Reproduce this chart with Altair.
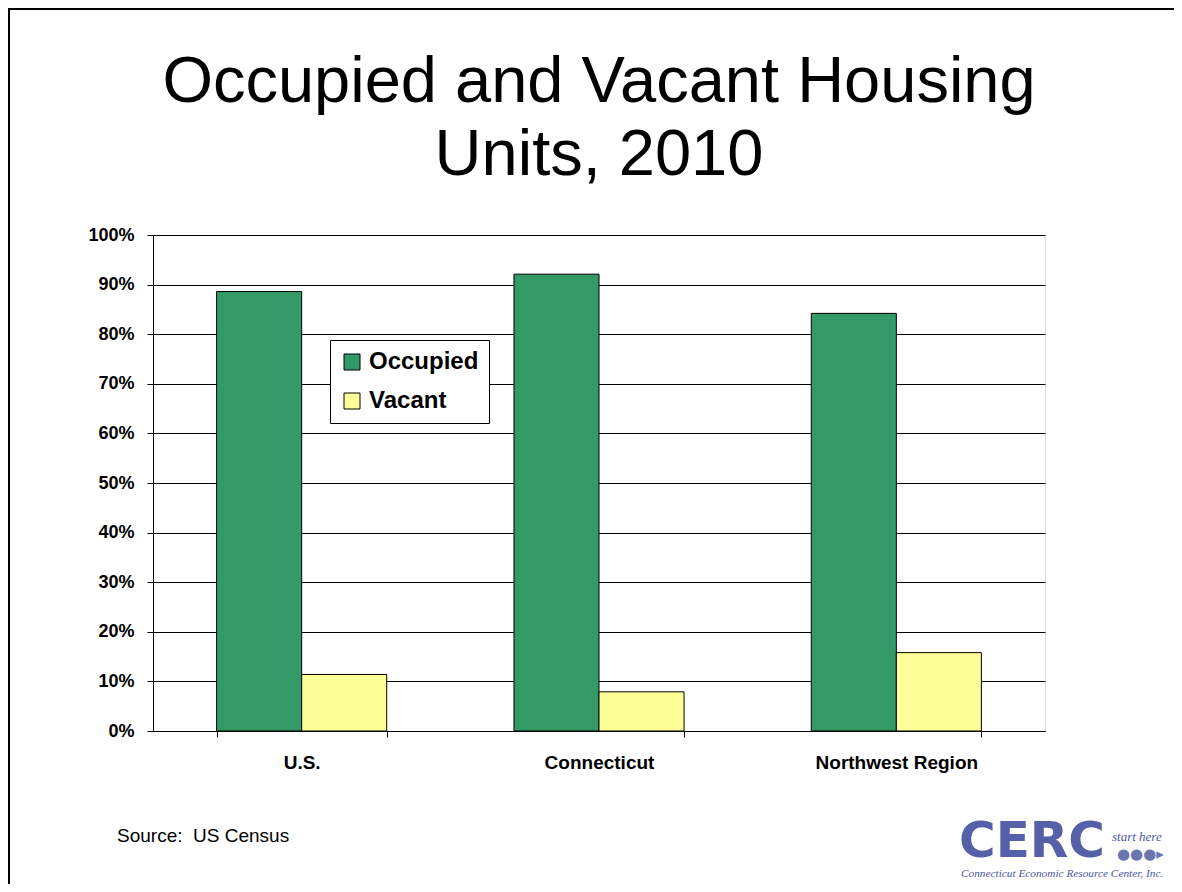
import altair as alt
import pandas as pd

title_lines = ["Occupied and Vacant Housing", "Units, 2010"]
regions = ["U.S.", "Connecticut", "Northwest Region"]
statuses = ["Occupied", "Vacant"]
occupied = [88.6, 92.1, 84.2]
vacant = [11.4, 7.9, 15.8]
y_ticks = [0, 10, 20, 30, 40, 50, 60, 70, 80, 90, 100]
colors = ["#339966", "#FFFF99"]

rows = []
for r, o, v in zip(regions, occupied, vacant):
    rows.append({"region": r, "status": "Occupied", "pct": o})
    rows.append({"region": r, "status": "Vacant", "pct": v})
df = pd.DataFrame(rows)

FONT = "Liberation Sans"

bars = alt.Chart(df).mark_bar(stroke="black", strokeWidth=1).encode(
    x=alt.X("region:N", sort=regions,
            scale=alt.Scale(paddingInner=0.428, paddingOuter=0.214),
            axis=alt.Axis(title=None, labelAngle=0, tickBand="extent", grid=False,
                          labelFont=FONT, labelFontSize=19, labelFontWeight="bold",
                          labelColor="black", tickColor="black", domainColor="black",
                          tickSize=6, labelPadding=16, labelBaseline="top")),
    xOffset=alt.XOffset("status:N", sort=statuses,
                        scale=alt.Scale(paddingInner=0, paddingOuter=0)),
    y=alt.Y("pct:Q", scale=alt.Scale(domain=[0, 100]),
            axis=alt.Axis(title=None, values=y_ticks, labelExpr="datum.value + '%'",
                          grid=True, gridColor="black", gridWidth=1,
                          labelFont=FONT, labelFontSize=18, labelFontWeight="bold",
                          labelColor="black", tickColor="black", domainColor="black",
                          tickSize=6, labelPadding=13)),
    color=alt.Color("status:N", sort=statuses,
                    scale=alt.Scale(domain=statuses, range=colors),
                    legend=alt.Legend(title=None, orient="none", legendX=177, legendY=105,
                                      symbolType="square", symbolSize=256,
                                      symbolStrokeColor="black", symbolStrokeWidth=1,
                                      labelFont=FONT, labelFontSize=24,
                                      labelFontWeight="bold", labelColor="black",
                                      strokeColor="black", fillColor="white",
                                      padding=10, rowPadding=15, labelOffset=5)),
)

dummy = pd.DataFrame({"k": [0]})

title = alt.Chart(dummy).mark_text(
    text=title_lines, font=FONT, fontSize=65, lineHeight=73, align="center",
    baseline="alphabetic", color="black"
).encode(x=alt.value(446), y=alt.value(-133))

source = alt.Chart(dummy).mark_text(
    text="Source:\u00a0 US Census", font=FONT, fontSize=19, align="left",
    baseline="alphabetic", color="black"
).encode(x=alt.value(-36), y=alt.value(607))

logo_main = alt.Chart(dummy).mark_text(
    text="CERC", font="DejaVu Sans", fontSize=50, fontWeight="bold",
    align="left", baseline="alphabetic", color="#5560a8"
).encode(x=alt.value(806), y=alt.value(622))

logo_tag = alt.Chart(dummy).mark_text(
    text="start here", font="Liberation Serif", fontSize=13, fontStyle="italic",
    align="left", baseline="alphabetic", color="#4d58a3"
).encode(x=alt.value(959), y=alt.value(606))

logo_dots = alt.Chart(dummy).mark_text(
    text="●●●▸", font="DejaVu Sans", fontSize=15,
    align="left", baseline="alphabetic", color="#6a74b3"
).encode(x=alt.value(964), y=alt.value(624))

logo_sub = alt.Chart(dummy).mark_text(
    text="Connecticut Economic Resource Center, Inc.", font="Liberation Serif",
    fontSize=11.3, fontStyle="italic", align="left", baseline="alphabetic",
    color="#4d58a3"
).encode(x=alt.value(808), y=alt.value(642))

border_left = alt.Chart(dummy).mark_rule(color="black", strokeWidth=2).encode(
    x=alt.value(-144), y=alt.value(-226), y2=alt.value(660))
border_top = alt.Chart(dummy).mark_rule(color="black", strokeWidth=2).encode(
    x=alt.value(-145), x2=alt.value(1030), y=alt.value(-226))

chart = alt.layer(
    bars, title, source, logo_main, logo_tag, logo_dots, logo_sub, border_left, border_top
).properties(
    width=892, height=496,
    autosize=alt.AutoSizeParams(type="none"),
    padding={"left": 145, "top": 227, "right": 129, "bottom": 153},
).configure_view(stroke="#555555", strokeWidth=1.5).configure(background="white")

chart.save("out.html", embed_options={"renderer": "svg", "actions": False})
